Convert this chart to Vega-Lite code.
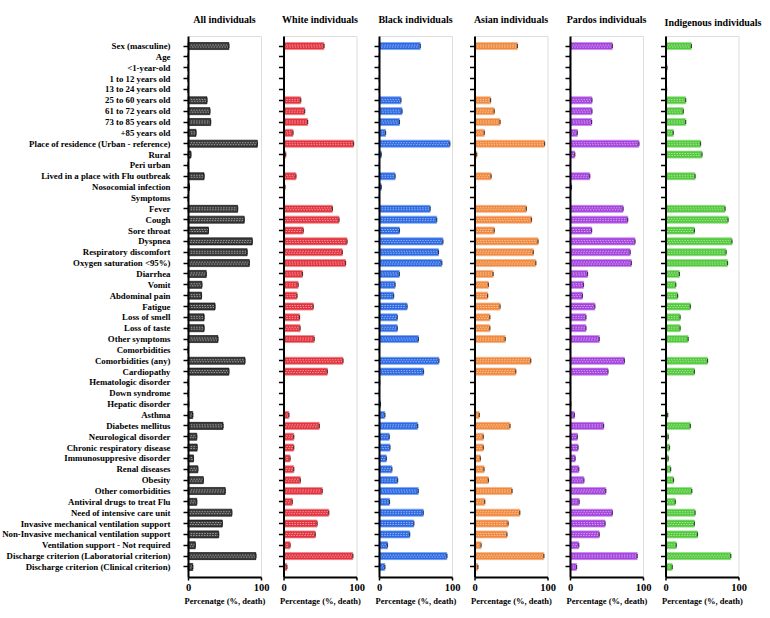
{
"$schema": "https://vega.github.io/schema/vega-lite/v6.json",
"background": "white",
"padding": {"left": 1, "top": 14, "right": 5, "bottom": 5},
"bounds": "flush",
"spacing": 22.5,
"datasets": {"d": [
{"g":"All","c":"Sex (masculine)","v":56},{"g":"All","c":"Age","v":0},{"g":"All","c":"<1-year-old","v":0},{"g":"All","c":"1 to 12 years old","v":0},{"g":"All","c":"13 to 24 years old","v":0},{"g":"All","c":"25 to 60 years old","v":26},{"g":"All","c":"61 to 72 years old","v":30},{"g":"All","c":"73 to 85 years old","v":31},{"g":"All","c":"+85 years old","v":11},{"g":"All","c":"Place of residence (Urban - reference)","v":95},{"g":"All","c":"Rural","v":4},{"g":"All","c":"Peri urban","v":0},{"g":"All","c":"Lived in a place with Flu outbreak","v":22},{"g":"All","c":"Nosocomial infection","v":2},{"g":"All","c":"Symptoms","v":0},{"g":"All","c":"Fever","v":68},{"g":"All","c":"Cough","v":77},{"g":"All","c":"Sore throat","v":28},{"g":"All","c":"Dyspnea","v":88},{"g":"All","c":"Respiratory discomfort","v":81},{"g":"All","c":"Oxygen saturation <95%)","v":84},{"g":"All","c":"Diarrhea","v":25},{"g":"All","c":"Vomit","v":19},{"g":"All","c":"Abdominal pain","v":18.5},{"g":"All","c":"Fatigue","v":37},{"g":"All","c":"Loss of smell","v":22},{"g":"All","c":"Loss of taste","v":22},{"g":"All","c":"Other symptoms","v":41},{"g":"All","c":"Comorbidities","v":0},{"g":"All","c":"Comorbidities (any)","v":78},{"g":"All","c":"Cardiopathy","v":56},{"g":"All","c":"Hematologic disorder","v":0},{"g":"All","c":"Down syndrome","v":0},{"g":"All","c":"Hepatic disorder","v":1},{"g":"All","c":"Asthma","v":6.5},{"g":"All","c":"Diabetes mellitus","v":48},{"g":"All","c":"Neurological disorder","v":12},{"g":"All","c":"Chronic respiratory disease","v":12.5},{"g":"All","c":"Immunosuppresive disorder","v":7.5},{"g":"All","c":"Renal diseases","v":13.5},{"g":"All","c":"Obesity","v":21},{"g":"All","c":"Other comorbidities","v":51},{"g":"All","c":"Antiviral drugs to treat Flu","v":12},{"g":"All","c":"Need of intensive care unit","v":60},{"g":"All","c":"Invasive mechanical ventilation support","v":47},{"g":"All","c":"Non-Invasive mechanical ventilation support","v":42},{"g":"All","c":"Ventilation support - Not required","v":10},{"g":"All","c":"Discharge criterion (Laboratorial criterion)","v":93},{"g":"All","c":"Discharge criterion (Clinical criterion)","v":6.5},
{"g":"White","c":"Sex (masculine)","v":55.5},{"g":"White","c":"Age","v":0},{"g":"White","c":"<1-year-old","v":0},{"g":"White","c":"1 to 12 years old","v":0},{"g":"White","c":"13 to 24 years old","v":0},{"g":"White","c":"25 to 60 years old","v":23.6},{"g":"White","c":"61 to 72 years old","v":29},{"g":"White","c":"73 to 85 years old","v":33},{"g":"White","c":"+85 years old","v":13},{"g":"White","c":"Place of residence (Urban - reference)","v":96},{"g":"White","c":"Rural","v":3},{"g":"White","c":"Peri urban","v":0},{"g":"White","c":"Lived in a place with Flu outbreak","v":17},{"g":"White","c":"Nosocomial infection","v":2},{"g":"White","c":"Symptoms","v":0},{"g":"White","c":"Fever","v":67},{"g":"White","c":"Cough","v":76},{"g":"White","c":"Sore throat","v":27},{"g":"White","c":"Dyspnea","v":87},{"g":"White","c":"Respiratory discomfort","v":80.5},{"g":"White","c":"Oxygen saturation <95%)","v":85},{"g":"White","c":"Diarrhea","v":26},{"g":"White","c":"Vomit","v":20},{"g":"White","c":"Abdominal pain","v":18.5},{"g":"White","c":"Fatigue","v":40.7},{"g":"White","c":"Loss of smell","v":22},{"g":"White","c":"Loss of taste","v":22.7},{"g":"White","c":"Other symptoms","v":42},{"g":"White","c":"Comorbidities","v":0},{"g":"White","c":"Comorbidities (any)","v":81.5},{"g":"White","c":"Cardiopathy","v":60},{"g":"White","c":"Hematologic disorder","v":1},{"g":"White","c":"Down syndrome","v":0},{"g":"White","c":"Hepatic disorder","v":1},{"g":"White","c":"Asthma","v":7.4},{"g":"White","c":"Diabetes mellitus","v":49},{"g":"White","c":"Neurological disorder","v":14},{"g":"White","c":"Chronic respiratory disease","v":14},{"g":"White","c":"Immunosuppresive disorder","v":9},{"g":"White","c":"Renal diseases","v":14},{"g":"White","c":"Obesity","v":23},{"g":"White","c":"Other comorbidities","v":53},{"g":"White","c":"Antiviral drugs to treat Flu","v":12},{"g":"White","c":"Need of intensive care unit","v":62},{"g":"White","c":"Invasive mechanical ventilation support","v":46},{"g":"White","c":"Non-Invasive mechanical ventilation support","v":43.5},{"g":"White","c":"Ventilation support - Not required","v":9},{"g":"White","c":"Discharge criterion (Laboratorial criterion)","v":95},{"g":"White","c":"Discharge criterion (Clinical criterion)","v":4.6},
{"g":"Black","c":"Sex (masculine)","v":56.5},{"g":"Black","c":"Age","v":0},{"g":"Black","c":"<1-year-old","v":0},{"g":"Black","c":"1 to 12 years old","v":0},{"g":"Black","c":"13 to 24 years old","v":0},{"g":"Black","c":"25 to 60 years old","v":30},{"g":"Black","c":"61 to 72 years old","v":31.5},{"g":"Black","c":"73 to 85 years old","v":28},{"g":"Black","c":"+85 years old","v":9},{"g":"Black","c":"Place of residence (Urban - reference)","v":97},{"g":"Black","c":"Rural","v":3},{"g":"Black","c":"Peri urban","v":0},{"g":"Black","c":"Lived in a place with Flu outbreak","v":22},{"g":"Black","c":"Nosocomial infection","v":3},{"g":"Black","c":"Symptoms","v":0},{"g":"Black","c":"Fever","v":70},{"g":"Black","c":"Cough","v":79},{"g":"Black","c":"Sore throat","v":28},{"g":"Black","c":"Dyspnea","v":87.5},{"g":"Black","c":"Respiratory discomfort","v":81.5},{"g":"Black","c":"Oxygen saturation <95%)","v":86},{"g":"Black","c":"Diarrhea","v":27.8},{"g":"Black","c":"Vomit","v":22},{"g":"Black","c":"Abdominal pain","v":20},{"g":"Black","c":"Fatigue","v":38.4},{"g":"Black","c":"Loss of smell","v":25},{"g":"Black","c":"Loss of taste","v":25},{"g":"Black","c":"Other symptoms","v":54},{"g":"Black","c":"Comorbidities","v":0},{"g":"Black","c":"Comorbidities (any)","v":82},{"g":"Black","c":"Cardiopathy","v":61},{"g":"Black","c":"Hematologic disorder","v":1},{"g":"Black","c":"Down syndrome","v":0},{"g":"Black","c":"Hepatic disorder","v":2},{"g":"Black","c":"Asthma","v":8},{"g":"Black","c":"Diabetes mellitus","v":53},{"g":"Black","c":"Neurological disorder","v":14},{"g":"Black","c":"Chronic respiratory disease","v":15},{"g":"Black","c":"Immunosuppresive disorder","v":10},{"g":"Black","c":"Renal diseases","v":17.6},{"g":"Black","c":"Obesity","v":25.5},{"g":"Black","c":"Other comorbidities","v":53.7},{"g":"Black","c":"Antiviral drugs to treat Flu","v":14.4},{"g":"Black","c":"Need of intensive care unit","v":60.6},{"g":"Black","c":"Invasive mechanical ventilation support","v":47.7},{"g":"Black","c":"Non-Invasive mechanical ventilation support","v":42},{"g":"Black","c":"Ventilation support - Not required","v":11.6},{"g":"Black","c":"Discharge criterion (Laboratorial criterion)","v":93},{"g":"Black","c":"Discharge criterion (Clinical criterion)","v":8},
{"g":"Asian","c":"Sex (masculine)","v":58.8},{"g":"Asian","c":"Age","v":0},{"g":"Asian","c":"<1-year-old","v":0},{"g":"Asian","c":"1 to 12 years old","v":0},{"g":"Asian","c":"13 to 24 years old","v":0},{"g":"Asian","c":"25 to 60 years old","v":22},{"g":"Asian","c":"61 to 72 years old","v":27},{"g":"Asian","c":"73 to 85 years old","v":35},{"g":"Asian","c":"+85 years old","v":13.4},{"g":"Asian","c":"Place of residence (Urban - reference)","v":96},{"g":"Asian","c":"Rural","v":3},{"g":"Asian","c":"Peri urban","v":0},{"g":"Asian","c":"Lived in a place with Flu outbreak","v":22.7},{"g":"Asian","c":"Nosocomial infection","v":1.4},{"g":"Asian","c":"Symptoms","v":0},{"g":"Asian","c":"Fever","v":71},{"g":"Asian","c":"Cough","v":78},{"g":"Asian","c":"Sore throat","v":27},{"g":"Asian","c":"Dyspnea","v":87},{"g":"Asian","c":"Respiratory discomfort","v":80.5},{"g":"Asian","c":"Oxygen saturation <95%)","v":84},{"g":"Asian","c":"Diarrhea","v":25.5},{"g":"Asian","c":"Vomit","v":19},{"g":"Asian","c":"Abdominal pain","v":18},{"g":"Asian","c":"Fatigue","v":35},{"g":"Asian","c":"Loss of smell","v":21},{"g":"Asian","c":"Loss of taste","v":21},{"g":"Asian","c":"Other symptoms","v":42},{"g":"Asian","c":"Comorbidities","v":0},{"g":"Asian","c":"Comorbidities (any)","v":77},{"g":"Asian","c":"Cardiopathy","v":56.5},{"g":"Asian","c":"Hematologic disorder","v":0},{"g":"Asian","c":"Down syndrome","v":0},{"g":"Asian","c":"Hepatic disorder","v":1},{"g":"Asian","c":"Asthma","v":6.5},{"g":"Asian","c":"Diabetes mellitus","v":48.6},{"g":"Asian","c":"Neurological disorder","v":12},{"g":"Asian","c":"Chronic respiratory disease","v":12},{"g":"Asian","c":"Immunosuppresive disorder","v":8},{"g":"Asian","c":"Renal diseases","v":13},{"g":"Asian","c":"Obesity","v":19},{"g":"Asian","c":"Other comorbidities","v":51.4},{"g":"Asian","c":"Antiviral drugs to treat Flu","v":14},{"g":"Asian","c":"Need of intensive care unit","v":62},{"g":"Asian","c":"Invasive mechanical ventilation support","v":46},{"g":"Asian","c":"Non-Invasive mechanical ventilation support","v":44.4},{"g":"Asian","c":"Ventilation support - Not required","v":9},{"g":"Asian","c":"Discharge criterion (Laboratorial criterion)","v":95},{"g":"Asian","c":"Discharge criterion (Clinical criterion)","v":4.6},
{"g":"Pardos","c":"Sex (masculine)","v":58},{"g":"Pardos","c":"Age","v":0},{"g":"Pardos","c":"<1-year-old","v":0},{"g":"Pardos","c":"1 to 12 years old","v":0},{"g":"Pardos","c":"13 to 24 years old","v":0},{"g":"Pardos","c":"25 to 60 years old","v":30},{"g":"Pardos","c":"61 to 72 years old","v":30},{"g":"Pardos","c":"73 to 85 years old","v":29.6},{"g":"Pardos","c":"+85 years old","v":10},{"g":"Pardos","c":"Place of residence (Urban - reference)","v":94.4},{"g":"Pardos","c":"Rural","v":6.5},{"g":"Pardos","c":"Peri urban","v":0},{"g":"Pardos","c":"Lived in a place with Flu outbreak","v":27},{"g":"Pardos","c":"Nosocomial infection","v":2},{"g":"Pardos","c":"Symptoms","v":0},{"g":"Pardos","c":"Fever","v":72.7},{"g":"Pardos","c":"Cough","v":79},{"g":"Pardos","c":"Sore throat","v":29.6},{"g":"Pardos","c":"Dyspnea","v":89},{"g":"Pardos","c":"Respiratory discomfort","v":82.4},{"g":"Pardos","c":"Oxygen saturation <95%)","v":84},{"g":"Pardos","c":"Diarrhea","v":24},{"g":"Pardos","c":"Vomit","v":18.5},{"g":"Pardos","c":"Abdominal pain","v":17},{"g":"Pardos","c":"Fatigue","v":34},{"g":"Pardos","c":"Loss of smell","v":21.8},{"g":"Pardos","c":"Loss of taste","v":21.8},{"g":"Pardos","c":"Other symptoms","v":40},{"g":"Pardos","c":"Comorbidities","v":0},{"g":"Pardos","c":"Comorbidities (any)","v":74.5},{"g":"Pardos","c":"Cardiopathy","v":52},{"g":"Pardos","c":"Hematologic disorder","v":0},{"g":"Pardos","c":"Down syndrome","v":0},{"g":"Pardos","c":"Hepatic disorder","v":1},{"g":"Pardos","c":"Asthma","v":6},{"g":"Pardos","c":"Diabetes mellitus","v":46},{"g":"Pardos","c":"Neurological disorder","v":10},{"g":"Pardos","c":"Chronic respiratory disease","v":11},{"g":"Pardos","c":"Immunosuppresive disorder","v":7},{"g":"Pardos","c":"Renal diseases","v":12},{"g":"Pardos","c":"Obesity","v":19},{"g":"Pardos","c":"Other comorbidities","v":49},{"g":"Pardos","c":"Antiviral drugs to treat Flu","v":12.5},{"g":"Pardos","c":"Need of intensive care unit","v":58},{"g":"Pardos","c":"Invasive mechanical ventilation support","v":48},{"g":"Pardos","c":"Non-Invasive mechanical ventilation support","v":40},{"g":"Pardos","c":"Ventilation support - Not required","v":12},{"g":"Pardos","c":"Discharge criterion (Laboratorial criterion)","v":92},{"g":"Pardos","c":"Discharge criterion (Clinical criterion)","v":9},
{"g":"Indig","c":"Sex (masculine)","v":35.5},{"g":"Indig","c":"Age","v":0},{"g":"Indig","c":"<1-year-old","v":2},{"g":"Indig","c":"1 to 12 years old","v":1},{"g":"Indig","c":"13 to 24 years old","v":1.5},{"g":"Indig","c":"25 to 60 years old","v":27.6},{"g":"Indig","c":"61 to 72 years old","v":24.4},{"g":"Indig","c":"73 to 85 years old","v":27.6},{"g":"Indig","c":"+85 years old","v":10.6},{"g":"Indig","c":"Place of residence (Urban - reference)","v":48},{"g":"Indig","c":"Rural","v":50},{"g":"Indig","c":"Peri urban","v":0},{"g":"Indig","c":"Lived in a place with Flu outbreak","v":40.5},{"g":"Indig","c":"Nosocomial infection","v":1},{"g":"Indig","c":"Symptoms","v":0},{"g":"Indig","c":"Fever","v":81.6},{"g":"Indig","c":"Cough","v":85.7},{"g":"Indig","c":"Sore throat","v":39.6},{"g":"Indig","c":"Dyspnea","v":91},{"g":"Indig","c":"Respiratory discomfort","v":83},{"g":"Indig","c":"Oxygen saturation <95%)","v":85},{"g":"Indig","c":"Diarrhea","v":19},{"g":"Indig","c":"Vomit","v":14},{"g":"Indig","c":"Abdominal pain","v":16.6},{"g":"Indig","c":"Fatigue","v":34},{"g":"Indig","c":"Loss of smell","v":20},{"g":"Indig","c":"Loss of taste","v":20},{"g":"Indig","c":"Other symptoms","v":31},{"g":"Indig","c":"Comorbidities","v":0},{"g":"Indig","c":"Comorbidities (any)","v":57.6},{"g":"Indig","c":"Cardiopathy","v":39.6},{"g":"Indig","c":"Hematologic disorder","v":0},{"g":"Indig","c":"Down syndrome","v":0},{"g":"Indig","c":"Hepatic disorder","v":0},{"g":"Indig","c":"Asthma","v":3},{"g":"Indig","c":"Diabetes mellitus","v":34},{"g":"Indig","c":"Neurological disorder","v":3.7},{"g":"Indig","c":"Chronic respiratory disease","v":5.5},{"g":"Indig","c":"Immunosuppresive disorder","v":3.7},{"g":"Indig","c":"Renal diseases","v":7},{"g":"Indig","c":"Obesity","v":11},{"g":"Indig","c":"Other comorbidities","v":36},{"g":"Indig","c":"Antiviral drugs to treat Flu","v":13.4},{"g":"Indig","c":"Need of intensive care unit","v":40.5},{"g":"Indig","c":"Invasive mechanical ventilation support","v":39.6},{"g":"Indig","c":"Non-Invasive mechanical ventilation support","v":43.8},{"g":"Indig","c":"Ventilation support - Not required","v":14.7},{"g":"Indig","c":"Discharge criterion (Laboratorial criterion)","v":89.4},{"g":"Indig","c":"Discharge criterion (Clinical criterion)","v":9.2}
]},
"data": {"name": "d"},
"hconcat": [
{"title": "All individuals", "width": 73, "height": 541,
 "transform": [{"filter": "datum.g == 'All'"}],
 "layer": [
  {"mark": {"type": "bar", "fill": "#3a3a3a", "stroke": "#000000", "strokeWidth": 0.6},
   "encoding": {"y": {"field": "c", "type": "nominal", "sort": null, "title": null, "scale": {"paddingInner": 0.35, "paddingOuter": 0.6}, "axis": {"zindex": 1, "domainColor": "black", "domainWidth": 2, "tickColor": "black", "tickWidth": 1.5, "tickSize": 5, "labelPadding": 13, "labelFont": "Liberation Serif", "labelFontWeight": "bold", "labelFontSize": 8.8, "labelColor": "black", "gridOpacity": 0}},
    "x": {"field": "v", "type": "quantitative", "scale": {"domain": [0, 100], "nice": false}, "axis": {"zindex": 1, "values": [0, 20, 40, 60, 80, 100], "title": "Percenatge (%, death)", "domainColor": "black", "domainWidth": 2, "tickColor": "black", "tickWidth": 1.5, "tickSize": 3, "labelFlush": false, "labelOverlap": false, "labelSeparation": -50, "labelFont": "Liberation Serif", "labelFontWeight": "bold", "labelFontSize": 10.5, "labelColor": "black", "titleFont": "Liberation Serif", "titleFontWeight": "bold", "titleFontSize": 8.5, "titleColor": "black", "gridOpacity": 0}}}},
  {"transform": [{"filter": "datum.v > 3"}], "mark": {"type": "bar", "fill": "transparent", "stroke": "#ffffff", "strokeWidth": 0.7, "strokeDash": [1.5, 1.2], "opacity": 0.75, "height": {"band": 0.28}},
   "encoding": {"y": {"field": "c", "type": "nominal", "sort": null}, "x": {"field": "v", "type": "quantitative"}}},
  {"transform": [{"filter": "datum.v > 0"}], "mark": {"type": "tick", "color": "#000000", "size": 4, "thickness": 1.2},
   "encoding": {"y": {"field": "c", "type": "nominal", "sort": null}, "x": {"field": "v", "type": "quantitative"}}}
 ]},
{"title": "White individuals", "width": 73, "height": 541,
 "transform": [{"filter": "datum.g == 'White'"}],
 "layer": [
  {"mark": {"type": "bar", "fill": "#e3323d", "stroke": "#f0868b", "strokeWidth": 0.8},
   "encoding": {"y": {"field": "c", "type": "nominal", "sort": null, "title": null, "scale": {"paddingInner": 0.35, "paddingOuter": 0.6}, "axis": {"zindex": 1, "labels": false, "domainColor": "black", "domainWidth": 2, "tickColor": "black", "tickWidth": 1.5, "tickSize": 5, "gridOpacity": 0}},
    "x": {"field": "v", "type": "quantitative", "scale": {"domain": [0, 100], "nice": false}, "axis": {"zindex": 1, "values": [0, 20, 40, 60, 80, 100], "title": "Percentage (%, death)", "domainColor": "black", "domainWidth": 2, "tickColor": "black", "tickWidth": 1.5, "tickSize": 3, "labelFlush": false, "labelOverlap": false, "labelSeparation": -50, "labelFont": "Liberation Serif", "labelFontWeight": "bold", "labelFontSize": 10.5, "labelColor": "black", "titleFont": "Liberation Serif", "titleFontWeight": "bold", "titleFontSize": 8.5, "titleColor": "black", "gridOpacity": 0}}}},
  {"transform": [{"filter": "datum.v > 3"}], "mark": {"type": "bar", "fill": "transparent", "stroke": "#ffffff", "strokeWidth": 0.7, "strokeDash": [1.5, 1.2], "opacity": 0.75, "height": {"band": 0.28}},
   "encoding": {"y": {"field": "c", "type": "nominal", "sort": null}, "x": {"field": "v", "type": "quantitative"}}},
  {"transform": [{"filter": "datum.v > 0"}], "mark": {"type": "tick", "color": "#000000", "size": 4, "thickness": 1.2},
   "encoding": {"y": {"field": "c", "type": "nominal", "sort": null}, "x": {"field": "v", "type": "quantitative"}}}
 ]},
{"title": "Black individuals", "width": 73, "height": 541,
 "transform": [{"filter": "datum.g == 'Black'"}],
 "layer": [
  {"mark": {"type": "bar", "fill": "#2b68e3", "stroke": "#7ea6f0", "strokeWidth": 0.8},
   "encoding": {"y": {"field": "c", "type": "nominal", "sort": null, "title": null, "scale": {"paddingInner": 0.35, "paddingOuter": 0.6}, "axis": {"zindex": 1, "labels": false, "domainColor": "black", "domainWidth": 2, "tickColor": "black", "tickWidth": 1.5, "tickSize": 5, "gridOpacity": 0}},
    "x": {"field": "v", "type": "quantitative", "scale": {"domain": [0, 100], "nice": false}, "axis": {"zindex": 1, "values": [0, 20, 40, 60, 80, 100], "title": "Percentage (%, death)", "domainColor": "black", "domainWidth": 2, "tickColor": "black", "tickWidth": 1.5, "tickSize": 3, "labelFlush": false, "labelOverlap": false, "labelSeparation": -50, "labelFont": "Liberation Serif", "labelFontWeight": "bold", "labelFontSize": 10.5, "labelColor": "black", "titleFont": "Liberation Serif", "titleFontWeight": "bold", "titleFontSize": 8.5, "titleColor": "black", "gridOpacity": 0}}}},
  {"transform": [{"filter": "datum.v > 3"}], "mark": {"type": "bar", "fill": "transparent", "stroke": "#ffffff", "strokeWidth": 0.7, "strokeDash": [1.5, 1.2], "opacity": 0.75, "height": {"band": 0.28}},
   "encoding": {"y": {"field": "c", "type": "nominal", "sort": null}, "x": {"field": "v", "type": "quantitative"}}},
  {"transform": [{"filter": "datum.v > 0"}], "mark": {"type": "tick", "color": "#000000", "size": 4, "thickness": 1.2},
   "encoding": {"y": {"field": "c", "type": "nominal", "sort": null}, "x": {"field": "v", "type": "quantitative"}}}
 ]},
{"title": "Asian individuals", "width": 73, "height": 541,
 "transform": [{"filter": "datum.g == 'Asian'"}],
 "layer": [
  {"mark": {"type": "bar", "fill": "#f0893d", "stroke": "#f6b58a", "strokeWidth": 0.8},
   "encoding": {"y": {"field": "c", "type": "nominal", "sort": null, "title": null, "scale": {"paddingInner": 0.35, "paddingOuter": 0.6}, "axis": {"zindex": 1, "labels": false, "domainColor": "black", "domainWidth": 2, "tickColor": "black", "tickWidth": 1.5, "tickSize": 5, "gridOpacity": 0}},
    "x": {"field": "v", "type": "quantitative", "scale": {"domain": [0, 100], "nice": false}, "axis": {"zindex": 1, "values": [0, 20, 40, 60, 80, 100], "title": "Percentage (%, death)", "domainColor": "black", "domainWidth": 2, "tickColor": "black", "tickWidth": 1.5, "tickSize": 3, "labelFlush": false, "labelOverlap": false, "labelSeparation": -50, "labelFont": "Liberation Serif", "labelFontWeight": "bold", "labelFontSize": 10.5, "labelColor": "black", "titleFont": "Liberation Serif", "titleFontWeight": "bold", "titleFontSize": 8.5, "titleColor": "black", "gridOpacity": 0}}}},
  {"transform": [{"filter": "datum.v > 3"}], "mark": {"type": "bar", "fill": "transparent", "stroke": "#ffffff", "strokeWidth": 0.7, "strokeDash": [1.5, 1.2], "opacity": 0.75, "height": {"band": 0.28}},
   "encoding": {"y": {"field": "c", "type": "nominal", "sort": null}, "x": {"field": "v", "type": "quantitative"}}},
  {"transform": [{"filter": "datum.v > 0"}], "mark": {"type": "tick", "color": "#000000", "size": 4, "thickness": 1.2},
   "encoding": {"y": {"field": "c", "type": "nominal", "sort": null}, "x": {"field": "v", "type": "quantitative"}}}
 ]},
{"title": "Pardos individuals", "width": 73, "height": 541,
 "transform": [{"filter": "datum.g == 'Pardos'"}],
 "layer": [
  {"mark": {"type": "bar", "fill": "#a442de", "stroke": "#c98bee", "strokeWidth": 0.8},
   "encoding": {"y": {"field": "c", "type": "nominal", "sort": null, "title": null, "scale": {"paddingInner": 0.35, "paddingOuter": 0.6}, "axis": {"zindex": 1, "labels": false, "domainColor": "black", "domainWidth": 2, "tickColor": "black", "tickWidth": 1.5, "tickSize": 5, "gridOpacity": 0}},
    "x": {"field": "v", "type": "quantitative", "scale": {"domain": [0, 100], "nice": false}, "axis": {"zindex": 1, "values": [0, 20, 40, 60, 80, 100], "title": "Percentage (%, death)", "domainColor": "black", "domainWidth": 2, "tickColor": "black", "tickWidth": 1.5, "tickSize": 3, "labelFlush": false, "labelOverlap": false, "labelSeparation": -50, "labelFont": "Liberation Serif", "labelFontWeight": "bold", "labelFontSize": 10.5, "labelColor": "black", "titleFont": "Liberation Serif", "titleFontWeight": "bold", "titleFontSize": 8.5, "titleColor": "black", "gridOpacity": 0}}}},
  {"transform": [{"filter": "datum.v > 3"}], "mark": {"type": "bar", "fill": "transparent", "stroke": "#ffffff", "strokeWidth": 0.7, "strokeDash": [1.5, 1.2], "opacity": 0.75, "height": {"band": 0.28}},
   "encoding": {"y": {"field": "c", "type": "nominal", "sort": null}, "x": {"field": "v", "type": "quantitative"}}},
  {"transform": [{"filter": "datum.v > 0"}], "mark": {"type": "tick", "color": "#000000", "size": 4, "thickness": 1.2},
   "encoding": {"y": {"field": "c", "type": "nominal", "sort": null}, "x": {"field": "v", "type": "quantitative"}}}
 ]},
{"title": {"text": "Indigenous individuals", "dx": 11, "offset": 8}, "width": 73, "height": 541,
 "transform": [{"filter": "datum.g == 'Indig'"}],
 "layer": [
  {"mark": {"type": "bar", "fill": "#52c83b", "stroke": "#96e08a", "strokeWidth": 0.8},
   "encoding": {"y": {"field": "c", "type": "nominal", "sort": null, "title": null, "scale": {"paddingInner": 0.35, "paddingOuter": 0.6}, "axis": {"zindex": 1, "labels": false, "domainColor": "black", "domainWidth": 2, "tickColor": "black", "tickWidth": 1.5, "tickSize": 5, "gridOpacity": 0}},
    "x": {"field": "v", "type": "quantitative", "scale": {"domain": [0, 100], "nice": false}, "axis": {"zindex": 1, "values": [0, 20, 40, 60, 80, 100], "title": "Percentage (%, death)", "domainColor": "black", "domainWidth": 2, "tickColor": "black", "tickWidth": 1.5, "tickSize": 3, "labelFlush": false, "labelOverlap": false, "labelSeparation": -50, "labelFont": "Liberation Serif", "labelFontWeight": "bold", "labelFontSize": 10.5, "labelColor": "black", "titleFont": "Liberation Serif", "titleFontWeight": "bold", "titleFontSize": 8.5, "titleColor": "black", "gridOpacity": 0}}}},
  {"transform": [{"filter": "datum.v > 3"}], "mark": {"type": "bar", "fill": "transparent", "stroke": "#ffffff", "strokeWidth": 0.7, "strokeDash": [1.5, 1.2], "opacity": 0.75, "height": {"band": 0.28}},
   "encoding": {"y": {"field": "c", "type": "nominal", "sort": null}, "x": {"field": "v", "type": "quantitative"}}},
  {"transform": [{"filter": "datum.v > 0"}], "mark": {"type": "tick", "color": "#000000", "size": 4, "thickness": 1.2},
   "encoding": {"y": {"field": "c", "type": "nominal", "sort": null}, "x": {"field": "v", "type": "quantitative"}}}
 ]}
],
"config": {
 "title": {"font": "Liberation Serif", "fontSize": 10, "fontWeight": "bold", "color": "#000000", "offset": 11, "anchor": "middle"}
}
}
